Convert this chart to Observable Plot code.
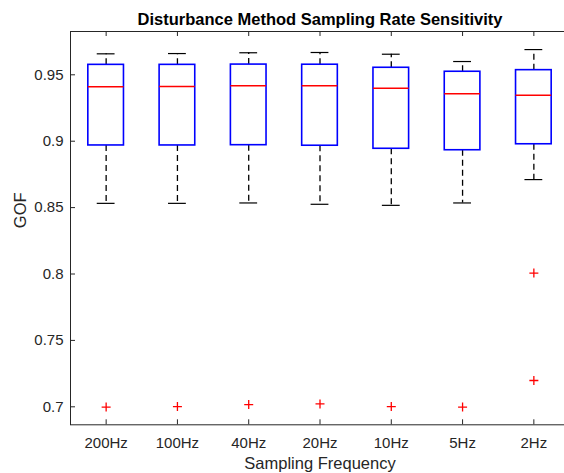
<!DOCTYPE html>
<html><head><meta charset="utf-8">
<script src="https://cdn.jsdelivr.net/npm/d3@7"></script>
<script src="https://cdn.jsdelivr.net/npm/@observablehq/plot@0.6"></script>
<style>html,body{margin:0;padding:0;background:#fff;overflow:hidden}</style>
</head><body><div id="chart"></div>
<script>
const categories = ["200Hz","100Hz","40Hz","20Hz","10Hz","5Hz","2Hz"];
const upperWhisker = [0.9658, 0.9660, 0.9666, 0.9668, 0.9655, 0.9600, 0.9690];
const q3 = [0.9575, 0.9575, 0.9577, 0.9576, 0.9553, 0.9523, 0.9535];
const median = [0.9411, 0.9412, 0.9417, 0.9417, 0.9399, 0.9357, 0.9346];
const q1 = [0.8968, 0.8968, 0.8970, 0.8966, 0.8943, 0.8932, 0.8977];
const lowerWhisker = [0.8532, 0.8532, 0.8535, 0.8525, 0.8517, 0.8535, 0.8711];
const outlierCategory = ["200Hz","100Hz","40Hz","20Hz","10Hz","5Hz","2Hz","2Hz"];
const outlierValue = [0.6998, 0.7002, 0.7017, 0.7022, 0.7002, 0.6998, 0.8007, 0.7198];
const yTicks = [0.7, 0.75, 0.8, 0.85, 0.9, 0.95];
const yTickLabels = ["0.7","0.75","0.8","0.85","0.9","0.95"];
const title = "Disturbance Method Sampling Rate Sensitivity";
const xLabel = "Sampling Frequency";
const yLabel = "GOF";

const W = 564, H = 473, mL = 70, mR = -5, mT = 31, mB = 48.7;
const fW = W - mL - mR, fH = H - mT - mB;
const xIdx = categories.map((c, i) => i + 1);
const boxes = categories.map((c, i) => ({i: i + 1, c, lo: lowerWhisker[i], q1: q1[i], med: median[i], q3: q3[i], hi: upperWhisker[i]}));
const outliers = outlierCategory.map((c, k) => ({i: categories.indexOf(c) + 1, v: outlierValue[k]}));
const plus = {draw(ctx, size) { const r = Math.sqrt(size / Math.PI); ctx.moveTo(-r, 0); ctx.lineTo(r, 0); ctx.moveTo(0, -r); ctx.lineTo(0, r); }};
const axisColor = "#262626";
const font = "'Liberation Sans', Arial, Helvetica, sans-serif";
const dash = "6,4";

const chart = Plot.plot({
  width: W, height: H, marginLeft: mL, marginRight: mR, marginTop: mT, marginBottom: mB,
  style: {fontFamily: font, fontSize: "15px", background: "#fff", overflow: "hidden"},
  x: {type: "linear", domain: [0.5, 7.5]},
  y: {domain: [0.68645, 0.98261]},
  marks: [
    Plot.ruleX(boxes, {x: "i", y1: "q3", y2: "hi", stroke: "#000", strokeDasharray: dash, strokeWidth: 1.3}),
    Plot.ruleX(boxes, {x: "i", y1: "q1", y2: "lo", stroke: "#000", strokeDasharray: dash, strokeWidth: 1.3}),
    Plot.ruleY(boxes, {y: "hi", x1: d => d.i - 0.125, x2: d => d.i + 0.125, stroke: "#000", strokeWidth: 1.2}),
    Plot.ruleY(boxes, {y: "lo", x1: d => d.i - 0.125, x2: d => d.i + 0.125, stroke: "#000", strokeWidth: 1.2}),
    Plot.rect(boxes, {x1: d => d.i - 0.25, x2: d => d.i + 0.25, y1: "q1", y2: "q3", fill: "none", stroke: "#0000ff", strokeWidth: 1.6}),
    Plot.ruleY(boxes, {y: "med", x1: d => d.i - 0.25, x2: d => d.i + 0.25, stroke: "#ff0000", strokeWidth: 1.5}),
    Plot.dot(outliers, {x: "i", y: "v", symbol: plus, r: 4.5, stroke: "#ff0000", strokeWidth: 1.3, fill: "none"}),
    Plot.frame({stroke: axisColor, strokeWidth: 1}),
    Plot.tickY(yTicks, {y: d => d, insetRight: fW - 5, stroke: axisColor}),
    Plot.tickY(yTicks, {y: d => d, insetLeft: fW - 5, stroke: axisColor}),
    Plot.tickX(xIdx, {x: d => d, insetBottom: fH - 5, stroke: axisColor}),
    Plot.tickX(xIdx, {x: d => d, insetTop: fH - 5, stroke: axisColor}),
    Plot.axisX(xIdx, {tickSize: 0, tickPadding: 12.4, tickFormat: d => categories[d - 1], fontSize: 15, color: axisColor, label: null}),
    Plot.axisY(yTicks, {tickSize: 0, tickPadding: 7, tickFormat: d => yTickLabels[yTicks.indexOf(d)], fontSize: 15, color: axisColor, label: null}),
    Plot.text([title], {text: d => d, frameAnchor: "top", dy: -11.3, fontWeight: "bold", fontSize: 16.5, fill: "#000", lineAnchor: "middle"}),
    Plot.text([xLabel], {text: d => d, frameAnchor: "bottom", dy: 39.4, fontSize: 16.5, fill: axisColor, lineAnchor: "middle"}),
    Plot.text([yLabel], {text: d => d, frameAnchor: "left", dx: -50, rotate: -90, fontSize: 16.5, fill: axisColor, lineAnchor: "middle"})
  ]
});
document.getElementById("chart").appendChild(chart);
</script>
</body></html>
